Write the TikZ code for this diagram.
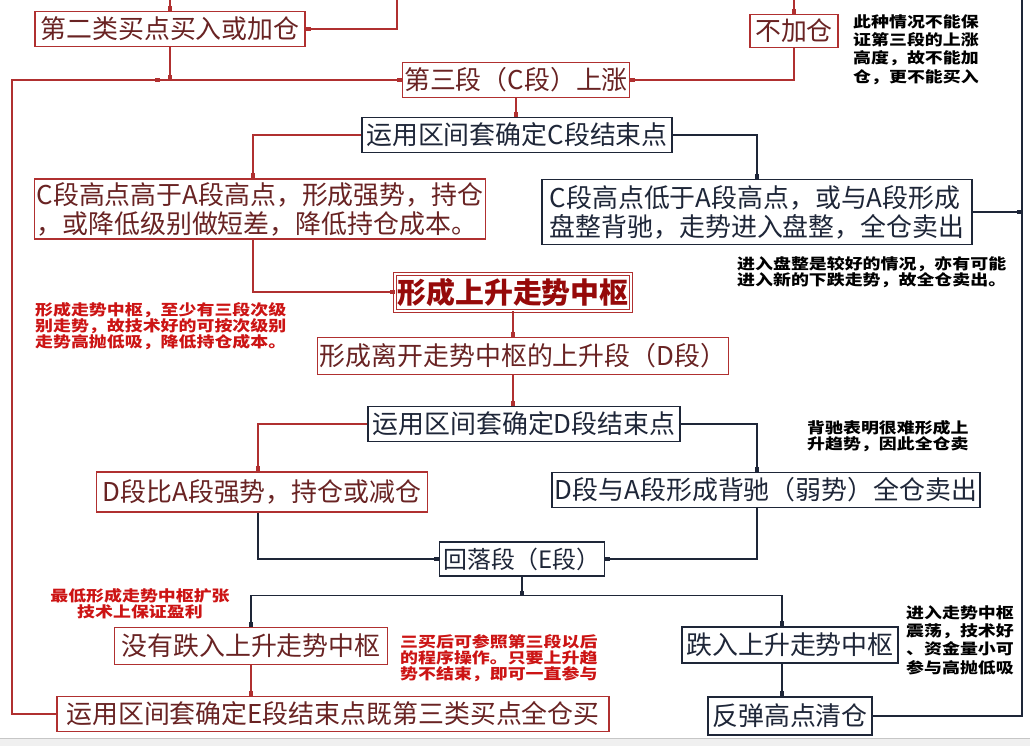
\documentclass[tikz,border=0pt]{standalone}
\usepackage{fontspec}
\setmainfont{Noto Sans CJK SC}
\newfontfamily\notefont[FakeStretch=1.2]{Noto Sans CJK SC}
\usetikzlibrary{arrows.meta}
\definecolor{boxred}{RGB}{176,48,48}
\definecolor{textred}{RGB}{105,35,35}
\definecolor{boxdark}{RGB}{30,38,56}
\definecolor{notered}{RGB}{204,20,20}
\definecolor{titlered}{RGB}{150,10,10}

\begin{document}
\begin{tikzpicture}[x=1bp,y=-1bp,
    box/.style={draw,fill=white,line width=1.2bp,inner sep=2bp,minimum height=35bp,
        font=\fontsize{26}{29}\selectfont},
    redbox/.style={box,draw=boxred,text=textred},
    darkbox/.style={box,draw=boxdark,text=boxdark},
    redline/.style={draw=boxred,line width=1.2bp,-{Square[length=5bp,width=4bp]}},
    darkline/.style={draw=boxdark,line width=1.2bp,-{Square[length=5bp,width=4bp]}},
    darkwire/.style={draw=boxdark,line width=1.2bp},
    note/.style={align=left,inner sep=0pt,anchor=north west,
        font=\notefont\bfseries\fontsize{15}{16}\selectfont},
    notewide/.style={note,font=\notefont\bfseries\fontsize{15}{18.5}\selectfont},
]
    \useasboundingbox (0,0) rectangle (1030,746);
    \fill[gray!12] (0,738) rectangle (1030,746);
    \draw[gray!45] (0,738) -- (1030,738);

    \node[redbox,minimum width=270bp] (secbuy) at (170,29) {第二类买点买入或加仓};
    \node[redbox,minimum width=88bp,minimum height=33bp] (noadd) at (794,31) {不加仓};
    \node[redbox,minimum width=227bp] (cup) at (516,80) {第三段（C段）上涨};
    \node[darkbox,minimum width=310bp] (cend) at (517,135) {运用区间套确定C段结束点};
    \node[redbox,minimum width=450bp,minimum height=60bp,align=left] (chigh) at (260,209)
        {C段高点高于A段高点，形成强势，持仓\\，或降低级别做短差，降低持仓成本。};
    \node[darkbox,minimum width=430bp,minimum height=65bp,align=left] (clow) at (757,212)
        {C段高点低于A段高点，或与A段形成\\盘整背驰，走势进入盘整，全仓卖出};
    \node[redbox,double,double distance=2bp,line width=1bp,minimum width=236bp,minimum height=37bp,
        text=titlered,font=\fontsize{29}{32}\selectfont\bfseries] (center) at (513,292) {形成上升走势中枢};
    \node[redbox,minimum width=407bp,minimum height=37bp] (dup) at (523,356) {形成离开走势中枢的上升段（D段）};
    \node[darkbox,minimum width=312bp] (dend) at (524,424) {运用区间套确定D段结束点};
    \node[redbox,minimum width=331bp,minimum height=40bp] (dstrong) at (262,492) {D段比A段强势，持仓或减仓};
    \node[darkbox,minimum width=428bp] (dweak) at (766,490) {D段与A段形成背驰（弱势）全仓卖出};
    \node[darkbox,minimum width=165bp,minimum height=34bp,font=\fontsize{24}{26}\selectfont] (efall) at (522,559) {回落段（E段）};
    \node[redbox,minimum width=273bp,minimum height=37bp] (nofall) at (251,646) {没有跌入上升走势中枢};
    \node[darkbox,minimum width=216bp,minimum height=36bp] (fall) at (790,645) {跌入上升走势中枢};
    \node[redbox,minimum width=552bp] (eend) at (333,714) {运用区间套确定E段结束点既第三类买点全仓买};
    \node[darkbox,minimum width=164bp,minimum height=38bp] (rebound) at (790,716) {反弹高点清仓};

    \node[notewide,text=black] (whynot) at (853,14) {此种情况不能保\\证第三段的上涨\\高度，故不能加\\仓，更不能买入};
    \node[note,text=black] (whysell) at (737,256) {进入盘整是较好的情况，亦有可能\\进入新的下跌走势，故全仓卖出。};
    \node[note,text=notered] (whyhold) at (35,302) {形成走势中枢，至少有三段次级\\别走势，故技术好的可按次级别\\走势高抛低吸，降低持仓成本。};
    \node[note,text=black] (whyweak) at (807,420) {背驰表明很难形成上\\升趋势，因此全仓卖};
    \node[note,text=notered,align=center,anchor=north] (whyprofit) at (140,588) {最低形成走势中枢扩张\\技术上保证盈利};
    \node[note,text=notered] (whythird) at (400,634) {三买后可参照第三段以后\\的程序操作。只要上升趋\\势不结束，即可一直参与};
    \node[notewide,text=black] (whyback) at (906,605) {进入走势中枢\\震荡，技术好\\、资金量小可\\参与高抛低吸};

    \coordinate (intop) at (170,0);
    \coordinate (inright) at (397,0);
    \coordinate (noaddtop) at (794,0);
    \coordinate (rtop) at (1022,0);
    \coordinate (lcorner) at (12,80);
    \coordinate (lmark) at (160,80);

    \draw[redline] (intop) -- (secbuy.north);
    \draw[redline] (inright) |- (secbuy.east);
    \draw[redline] (noaddtop) -- (noadd.north);
    \draw[redline] (secbuy.south) -- (secbuy.south |- cup.west);
    \draw[redline] (eend.west) -| (lcorner) -- (lmark);
    \draw[redline] (lmark) -- (cup.west);
    \draw[redline] (noadd.south) |- (cup.east);
    \draw[redline] (cup.south) -- (cup.south |- cend.north);
    \draw[redline] (cend.west) -| ([xshift=-7bp]chigh.north);
    \draw[darkline] (cend.east) -| (clow.north);
    \draw[darkline] (clow.east) -- (clow.east -| rtop);
    \draw[redline] ([xshift=-7bp]chigh.south) |- (center.west);
    \draw[redline] (center.south) -- (center.south |- dup.north);
    \draw[redline] (center.south |- dup.south) -- (center.south |- dend.north);
    \draw[redline] (dend.west) -| ([xshift=-4bp]dstrong.north);
    \draw[darkline] (dend.east) -| ([xshift=-9bp]dweak.north);
    \draw[darkline] ([xshift=-4bp]dstrong.south) |- (efall.west);
    \draw[darkline] ([xshift=-9bp]dweak.south) |- (efall.east);
    \draw[darkline] (efall.south) -- ++(0,19) coordinate (esplit);
    \draw[darkline] (esplit) -| (nofall.north);
    \draw[darkline] (esplit) -| ([xshift=-8bp]fall.north);
    \draw[redline] (nofall.south) -- (nofall.south |- eend.north);
    \draw[darkline] ([xshift=-8bp]fall.south) -- ([xshift=-8bp]rebound.north);
    \draw[darkwire] (rebound.east) -| (rtop);
\end{tikzpicture}
\end{document}
